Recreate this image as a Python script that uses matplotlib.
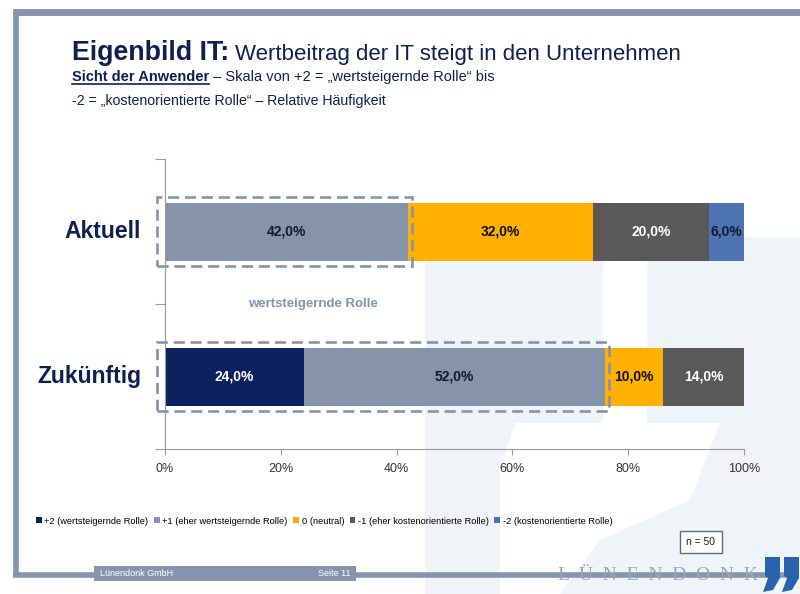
import matplotlib
matplotlib.use("Agg")
import matplotlib.pyplot as plt
import numpy as np
from matplotlib.patches import Rectangle, Polygon
from matplotlib.lines import Line2D

plt.rcParams["font.family"] = ["Liberation Sans", "DejaVu Sans"]

# data
categories = ["Zukünftig", "Aktuell"]
series_names = ["+2 (wertsteigernde Rolle)", "+1 (eher wertsteigernde Rolle)", "0 (neutral)",
                "-1 (eher kostenorientierte Rolle)", "-2 (kostenorientierte Rolle)"]
aktuell = [0.0, 42.0, 32.0, 20.0, 6.0]
zukuenftig = [24.0, 52.0, 10.0, 14.0, 0.0]
xticks = [0, 20, 40, 60, 80, 100]

colors = ["#0d2160", "#8593ab", "#ffb000", "#595959", "#4f74b4"]
label_colors = ["white", "#111a33", "#111111", "white", "#111a33"]
navy = "#0d2050"
frame = "#8794ad"

W, H = 800, 594
fig = plt.figure(figsize=(8, 5.94), dpi=100)

# background layer in pixel coordinates
bg = fig.add_axes([0, 0, 1, 1], zorder=-10)
bg.set_xlim(0, W)
bg.set_ylim(H, 0)
bg.axis("off")

wm = "#f0f3f8"
j1 = [(425, 237), (603, 237), (603, 423), (515, 423), (500, 470), (500, 594), (425, 594)]
j2 = [(647, 237), (800, 237), (800, 594), (560, 594), (600, 540), (690, 500), (720, 423), (647, 423)]
for pts in (j1, j2):
    bg.add_patch(Polygon(pts, closed=True, facecolor=wm, edgecolor="none"))


def fx(px):
    return px / W


def fy(py):
    return 1 - py / H


# slide frame
fig.add_artist(Line2D([fx(13), fx(800)], [fy(12), fy(12)], color=frame, lw=5, solid_capstyle="butt"))
fig.add_artist(Line2D([fx(15.5), fx(15.5)], [fy(10), fy(577)], color=frame, lw=4, solid_capstyle="butt"))
fig.add_artist(Line2D([fx(13), fx(790)], [fy(575), fy(575)], color=frame, lw=4, solid_capstyle="butt"))
fig.patches.append(Rectangle((fx(94), fy(581)), fx(356) - fx(94), fy(566) - fy(581),
                             transform=fig.transFigure, facecolor=frame, edgecolor="none", zorder=2))
fig.text(fx(100), fy(574), "Lünendonk GmbH", color="white", fontsize=6.5, va="center", ha="left", zorder=3)
fig.text(fx(350), fy(574), "Seite 11", color="white", fontsize=6.5, va="center", ha="right", zorder=3)

# logo
fig.text(fx(658), fy(576), "L  Ü  N  E  N  D  O  N  K", family=["Liberation Serif", "DejaVu Serif"],
         fontsize=14, color="#9ea6b5", ha="center", va="center", zorder=3)
logo_blue = "#2a63ad"
for x0 in (765, 784):
    q = [(x0, 557), (x0 + 15, 557), (x0 + 15, 578), (x0 + 8, 590), (x0 - 2, 592), (x0 + 3, 578), (x0, 576)]
    fig.patches.append(Polygon([(fx(x), fy(y)) for x, y in q], closed=True,
                               transform=fig.transFigure, facecolor=logo_blue, edgecolor="none", zorder=4))

# titles
fig.canvas.draw()
r = fig.canvas.get_renderer()
t1 = fig.text(fx(72), fy(60), "Eigenbild IT:", fontsize=19.3, fontweight="bold", color=navy)
bb = t1.get_window_extent(r)
fig.text(bb.x1 / W + fx(6), fy(60), "Wertbeitrag der IT steigt in den Unternehmen",
         fontsize=16, color=navy)

t2 = fig.text(fx(72), fy(81), "Sicht der Anwender", fontsize=10.5, fontweight="bold", color=navy)
bb2 = t2.get_window_extent(r)
fig.add_artist(Line2D([bb2.x0 / W, bb2.x1 / W], [fy(84), fy(84)], color=navy, lw=1.2))
fig.text(bb2.x1 / W, fy(81), " \u2013 Skala von +2 = \u201ewertsteigernde Rolle\u201c bis",
         fontsize=10.5, color=navy)
fig.text(fx(72), fy(105), "-2 = \u201ekostenorientierte Rolle\u201c \u2013 Relative Häufigkeit",
         fontsize=10.2, color=navy)

# chart
ax = fig.add_axes([fx(165), fy(449), fx(744) - fx(165), fy(159) - fy(449)])
ax.patch.set_alpha(0)
ypos = np.arange(len(categories))
data = np.array([zukuenftig, aktuell])
left = np.zeros(len(categories))
for i, name in enumerate(series_names):
    vals = data[:, i]
    ax.barh(ypos, vals, left=left, height=0.4, color=colors[i], label=name, zorder=2)
    for y, v, l in zip(ypos, vals, left):
        if v > 0:
            ax.text(l + v / 2, y, f"{v:.1f}%".replace(".", ","), ha="center", va="center",
                    fontsize=10, fontweight="bold", color=label_colors[i], zorder=4)
    left = left + vals

# dashed highlight boxes around the value-adding share
for y, row in zip(ypos, data):
    end = row[0] + row[1]
    ax.add_patch(Rectangle((-1.4, y - 0.235), end + 2.0, 0.47, fill=False, edgecolor="#8593ab",
                           lw=1.9, linestyle=(0, (4.2, 2.2)), zorder=5, clip_on=False))

ax.text(25.5, 0.5, "wertsteigernde Rolle", ha="center", va="center", fontsize=9.5,
        fontweight="bold", color="#8593ab")

ax.set_xlim(0, 100)
ax.set_ylim(-0.5, 1.5)
ax.set_xticks(xticks)
ax.set_xticklabels([f"{t}%" for t in xticks], fontsize=9, color="#333333")
ax.set_yticks([-0.5, 0.5, 1.5])
ax.set_yticklabels([])
ax.tick_params(axis="x", length=4, color="#999999", pad=6)
ax.tick_params(axis="y", length=7, color="#999999")
for s in ("top", "right"):
    ax.spines[s].set_visible(False)
for s in ("left", "bottom"):
    ax.spines[s].set_color("#999999")

for y, name in zip(ypos, categories):
    ax.text(-4.1, y, name, ha="right", va="center", fontsize=16.5, fontweight="bold",
            color=navy, clip_on=False)

# legend
handles, labels = ax.get_legend_handles_labels()
fig.legend(handles, labels, loc="center left", bbox_to_anchor=(fx(36), fy(521)), ncol=5,
           frameon=False, fontsize=6.7, handlelength=0.6, handleheight=0.6, handletextpad=0.3,
           columnspacing=0.6, borderaxespad=0, borderpad=0)

# n box
fig.text(fx(701), fy(542), "n = 50", ha="center", va="center", fontsize=7.5, color="#222222",
         bbox=dict(boxstyle="square,pad=0.6", facecolor="white", edgecolor="#5a6a88", lw=1))

fig.savefig("out.png", dpi=100)
